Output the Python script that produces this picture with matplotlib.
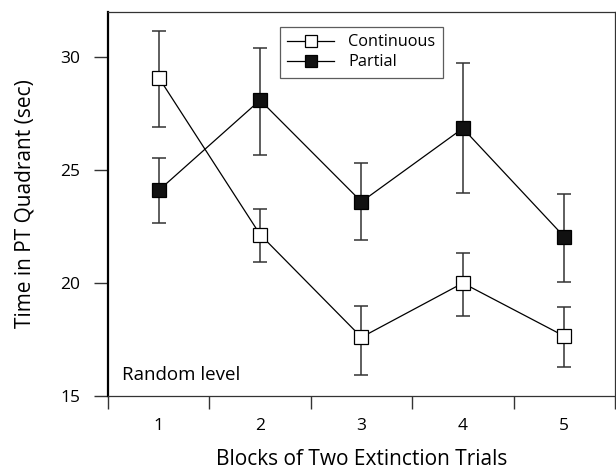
import matplotlib
matplotlib.use("Agg")
import matplotlib.pyplot as plt
import numpy as np

plt.rcParams['font.family'] = ['Open Sans', 'DejaVu Sans']

blocks = [1, 2, 3, 4, 5]
cont_mean = [29.1, 22.15, 17.6, 20.0, 17.65]
cont_upper = [31.15, 23.3, 19.0, 21.35, 18.95]
cont_lower = [26.9, 20.95, 15.95, 18.55, 16.3]
part_mean = [24.1, 28.1, 23.6, 26.85, 22.05]
part_upper = [25.55, 30.4, 25.3, 29.75, 23.95]
part_lower = [22.65, 25.65, 21.9, 24.0, 20.05]
yticks = [15, 20, 25, 30]

fig = plt.figure(figsize=(6.16, 4.75), dpi=100)
ax = fig.add_axes([0.1753, 0.1663, 0.8230, 0.8084])

def draw(mean, lo, hi, face, label):
    m = np.array(mean)
    yerr = [m - np.array(lo), np.array(hi) - m]
    ax.errorbar(blocks, m, yerr=yerr, fmt='none', ecolor='#333333',
                elinewidth=1.1, capsize=5, capthick=1.1, zorder=2)
    ax.plot(blocks, m, '-', color='black', lw=0.9, marker='s', ms=9.5,
            mfc=face, mec='black', mew=0.9, label=label, zorder=3)

draw(cont_mean, cont_lower, cont_upper, 'white', 'Continuous')
draw(part_mean, part_lower, part_upper, '#111111', 'Partial')

ax.set_xlim(0.5, 5.5)
ax.set_ylim(15, 32)
ax.set_xticks(np.arange(0.5, 5.6, 1.0))
ax.set_xticklabels([])
ax.set_xticks(blocks, minor=True)
ax.set_xticklabels([str(b) for b in blocks], minor=True, fontsize=12.5)
ax.tick_params(axis='x', which='minor', length=0, pad=15.5)
ax.tick_params(axis='x', which='major', length=9, width=1, direction='out', color='#333333')
ax.set_yticks(yticks)
ax.set_yticklabels([str(t) for t in yticks], fontsize=12.5)
ax.tick_params(axis='y', length=10, width=1, direction='out', color='#333333', pad=10)

ax.spines['left'].set_linewidth(1.6)
ax.spines['left'].set_color('black')
for s in ['top', 'right', 'bottom']:
    ax.spines[s].set_linewidth(0.9)
    ax.spines[s].set_color('#333333')

ax.set_xlabel('Blocks of Two Extinction Trials', fontsize=15, labelpad=11)
ax.set_ylabel('Time in PT Quadrant (sec)', fontsize=15, labelpad=18)

ax.text(0.0276, 0.042, 'Random level', transform=ax.transAxes, fontsize=13.5,
        ha='left', va='baseline')

leg = ax.legend(loc='upper left', bbox_to_anchor=(0.339, 0.961), borderaxespad=0,
                fontsize=11.7, frameon=True, fancybox=False, edgecolor='#333333',
                borderpad=0.45, labelspacing=0.25, handlelength=2.9,
                handletextpad=0.85, markerscale=0.85)
leg.get_frame().set_linewidth(0.9)

fig.savefig('out.png', dpi=100)
